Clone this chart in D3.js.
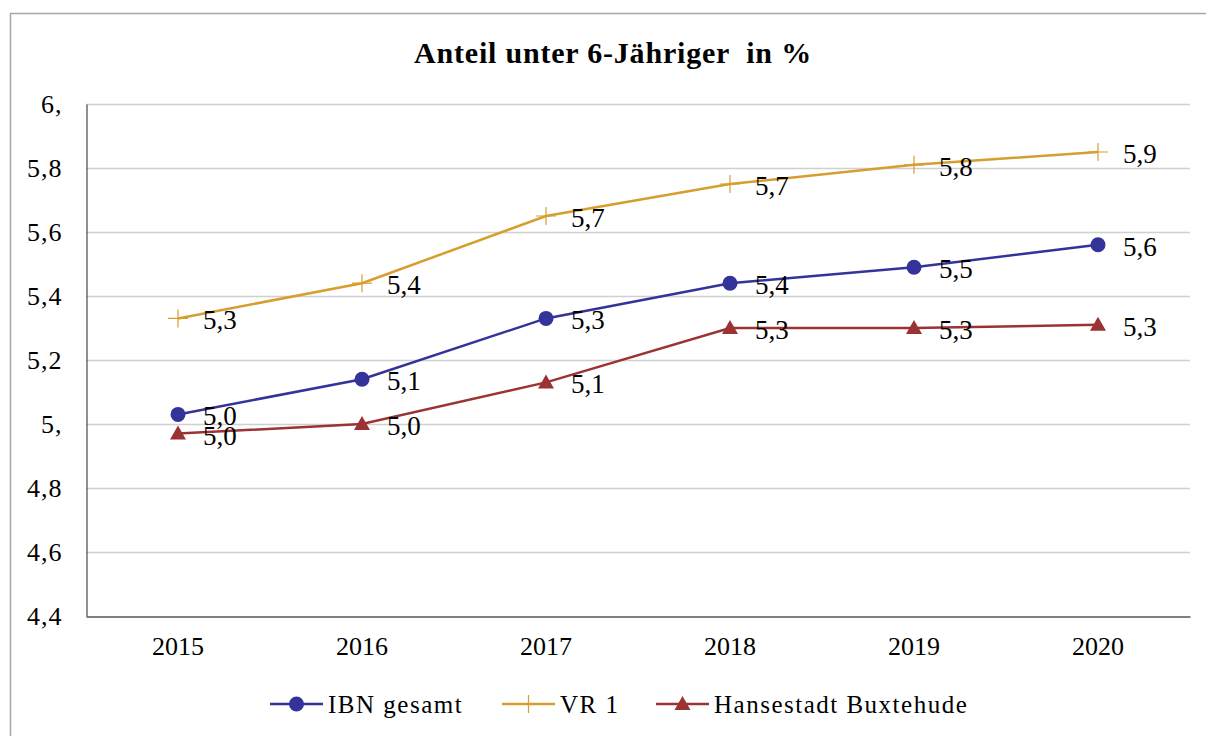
<!DOCTYPE html>
<html>
<head>
<meta charset="utf-8">
<script src="https://cdn.jsdelivr.net/npm/d3@7"></script>
<style>
    body { margin: 0; background: #fff; }
    text { font-family: "Liberation Serif", "Times New Roman", serif; fill: #000; }
</style>
</head>
<body>
<div id="chart"></div>
<script>
// chart data
var years = ["2015", "2016", "2017", "2018", "2019", "2020"];
var ibnValues = [5.03, 5.14, 5.33, 5.44, 5.49, 5.56];
var vrValues = [5.33, 5.44, 5.65, 5.75, 5.81, 5.85];
var buxValues = [4.97, 5.00, 5.13, 5.30, 5.30, 5.31];
var seriesNames = ["IBN gesamt", "VR 1", "Hansestadt Buxtehude"];
var yTicks = [4.4, 4.6, 4.8, 5.0, 5.2, 5.4, 5.6, 5.8, 6.0];
var yTickLabels = ["4,4", "4,6", "4,8", "5,", "5,2", "5,4", "5,6", "5,8", "6,"];
var labelsIbn = ["5,0", "5,1", "5,3", "5,4", "5,5", "5,6"];
var labelsVr = ["5,3", "5,4", "5,7", "5,7", "5,8", "5,9"];
var labelsBux = ["5,0", "5,0", "5,1", "5,3", "5,3", "5,3"];

var width = 1206, height = 736;
var margin = {left: 86, right: 16, top: 104, bottom: 120};

var svg = d3.select('#chart').append('svg')
    .attr('width', width)
    .attr('height', height);

// outer frame
svg.append('rect')
    .attr('x', 10.5).attr('y', 13.5)
    .attr('width', width).attr('height', height)
    .attr('fill', 'none')
    .attr('stroke', '#a6a6a6')
    .attr('stroke-width', 1.5);

svg.append('text')
    .attr('x', 613).attr('y', 63)
    .attr('text-anchor', 'middle')
    .style('font-size', '30px')
    .style('font-weight', 'bold')
    .style('letter-spacing', '0.8px')
    .style('white-space', 'pre')
    .text('Anteil unter 6-Jähriger  in %');

var x = d3.scaleBand().domain(years).range([margin.left, width - margin.right]);
var y = d3.scaleLinear().domain([4.4, 6.0]).range([height - margin.bottom, margin.top]);

// grid lines
svg.append('g').selectAll('line').data(yTicks.slice(1))
    .enter().append('line')
    .attr('x1', margin.left).attr('x2', width - margin.right)
    .attr('y1', function(d) { return y(d) + 0.5; })
    .attr('y2', function(d) { return y(d) + 0.5; })
    .attr('stroke', '#d0d0d0')
    .attr('stroke-width', 1.3);

// y axis
var yAxis = svg.append('g')
    .attr('transform', 'translate(' + (margin.left + 0.5) + ',0)')
    .call(d3.axisLeft(y).tickValues(yTicks).tickSize(0).tickPadding(24)
        .tickFormat(function(d, i) { return yTickLabels[i]; }));
yAxis.select('.domain').attr('stroke', '#555').attr('stroke-width', 1.3);
yAxis.selectAll('text').style('font-size', '26px').style('letter-spacing', '1px').attr('dy', '0.32em');

// x axis
var xAxis = svg.append('g')
    .attr('transform', 'translate(0,' + (y(4.4) + 0.5) + ')')
    .call(d3.axisBottom(x).tickSize(0).tickPadding(20));
xAxis.select('.domain').attr('stroke', '#555').attr('stroke-width', 1.3);
xAxis.selectAll('text').style('font-size', '26px');

var series = [
    {name: seriesNames[0], values: ibnValues, labels: labelsIbn, color: '#33339a', marker: 'circle'},
    {name: seriesNames[1], values: vrValues, labels: labelsVr, color: '#d69e2e', marker: 'plus'},
    {name: seriesNames[2], values: buxValues, labels: labelsBux, color: '#9b3333', marker: 'triangle'}
];

var line = d3.line()
    .x(function(d, i) { return x(years[i]) + x.bandwidth() / 2; })
    .y(function(d) { return y(d); });

function drawMarker(g, type, color) {
    if (type === 'circle') {
        g.append('circle').attr('r', 7.5).attr('fill', color);
    } else if (type === 'triangle') {
        g.append('path').attr('d', 'M0,-8L8,6L-8,6Z').attr('fill', color);
    } else {
        g.append('path').attr('d', 'M-10,0H10M0,-9V9')
            .attr('stroke', color).attr('stroke-width', 1.2).attr('fill', 'none');
    }
}

series.forEach(function(s) {
    svg.append('path')
        .datum(s.values)
        .attr('d', line)
        .attr('fill', 'none')
        .attr('stroke', s.color)
        .attr('stroke-width', 2.5);

    s.values.forEach(function(v, i) {
        var g = svg.append('g')
            .attr('transform', 'translate(' + (x(years[i]) + x.bandwidth() / 2) + ',' + y(v) + ')');
        drawMarker(g, s.marker, s.color);
        svg.append('text')
            .attr('x', x(years[i]) + x.bandwidth() / 2 + 25)
            .attr('y', y(v) + 11)
            .style('font-size', '27px')
            .text(s.labels[i]);
    });
});

// legend
var legendX = [270, 502, 656];
series.forEach(function(s, i) {
    var g = svg.append('g').attr('transform', 'translate(' + legendX[i] + ',704)');
    var len = 53;
    g.append('line').attr('x1', 0).attr('x2', len)
        .attr('stroke', s.color).attr('stroke-width', 2.5);
    var m = g.append('g').attr('transform', 'translate(' + (len / 2) + ',0)');
    drawMarker(m, s.marker, s.color);
    g.append('text')
        .attr('x', len + 5).attr('y', 9)
        .style('font-size', '25px')
        .style('letter-spacing', '1.5px')
        .text(s.name);
});
</script>
</body>
</html>
